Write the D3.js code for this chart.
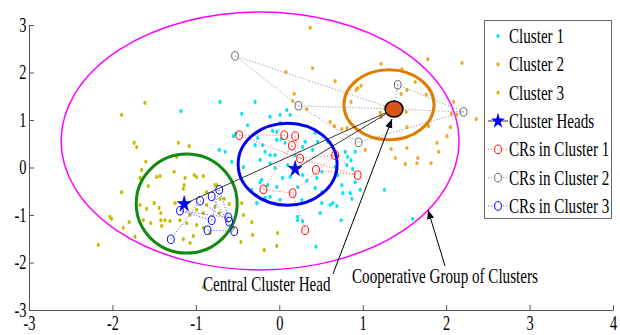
<!DOCTYPE html>
<html><head><meta charset="utf-8">
<script src="https://cdn.jsdelivr.net/npm/d3@7"></script>
<style>body{margin:0;background:#fff} text{font-family:"Liberation Serif","Times New Roman",serif;}</style>
</head><body><svg id="c" width="620" height="335"></svg>
<script>
// ---------------- data ----------------
const xTicks = [-3,-2,-1,0,1,2,3,4];
const yTicks = [-3,-2,-1,0,1,2,3];
const legendLabels = ["Cluster 1","Cluster 2","Cluster 3","Cluster Heads","CRs in Cluster 1","CRs in Cluster 2","CRs in Cluster 3"];

const cluster1 = [[-0.71,1.38],[-1.18,1.19],[-0.45,1.13],[-0.55,0.66],[-0.52,0.71],[-0.72,0.37],[-0.29,1.38],[0.01,1.11],[0.13,1.11],[0.09,1.21],
 [-0.03,0.75],[-0.03,0.58],[0.07,0.52],[0.31,0.54],[0.43,0.73],[0.46,0.54],[0.40,0.37],[-0.17,0.33],[-0.05,0.26],[0.19,0.26],
 [0.58,0.54],[0.79,0.33],[0.91,0.33],[0.82,0.22],[-0.29,0.47],[-0.65,0.33],[-0.57,0.12],[-0.43,0.01],[-0.23,0.16],[-0.11,0.26],
 [-0.05,-0.01],[0.04,-0.22],[0.13,-0.20],[0.28,-0.16],[0.33,-0.28],[-0.23,-0.31],[-0.33,-0.47],[-0.11,-0.62],[0.01,-0.68],[0.27,-0.68],
 [0.81,0.05],[0.86,0.15],[0.91,-0.31],[0.97,-0.47],[0.49,-0.96],[0.61,-0.79],[0.22,-1.04],[-0.27,-0.75],[-0.11,0.09],[0.10,0.05],
 [0.45,-0.22],[0.51,-0.09],[0.67,0.01],[0.70,-0.16],[0.88,-0.03],[-0.21,-0.26],[-0.14,-0.37],[-0.03,-0.41],[0.22,-0.41],[0.43,-0.43],
 [0.51,-0.52],[0.75,-0.37],[0.76,-0.54],[0.85,-0.54],[0.87,-0.66],[0.51,-0.75],[0.64,-0.75],[0.69,-0.81],[-0.17,-0.64],[0.22,-1.11],
 [0.28,-1.13],[0.74,-1.11],[0.44,-1.67],[1.26,-0.47],[1.60,-1.08],[-0.38,0.89],[-0.26,0.62],[-0.11,1.07],[0.01,0.94],[-0.08,0.77],
 [0.02,0.60],[-0.20,0.47],[0.28,0.43]];

const cluster2 = [[0.37,2.94],[0.40,2.09],[0.08,2.01],[0.67,1.82],[1.22,2.18],[1.47,2.07],[1.78,2.28],[2.19,2.20],[0.92,1.63],[0.98,1.72],
 [0.94,1.67],[0.18,1.55],[0.16,1.40],[0.33,1.23],[0.86,1.38],[1.46,1.55],[1.53,1.63],[1.76,1.53],[1.63,1.80],[2.09,1.38],
 [2.06,1.13],[2.13,1.11],[2.36,1.02],[1.52,1.17],[1.21,1.15],[1.22,1.06],[0.61,0.96],[0.66,0.87],[0.75,0.81],[0.81,0.83],
 [1.53,0.85],[1.79,0.87],[2.05,0.85],[2.01,0.66],[1.03,0.37],[1.34,0.39],[1.53,0.41],[1.39,0.20],[1.66,0.20],[1.91,0.33],
 [1.89,0.52],[1.51,0.07],[1.65,0.09],[1.82,0.09]];

const cluster3 = [[-1.61,1.36],[-1.89,1.11],[-1.74,0.52],[-1.71,0.43],[-1.21,0.52],[-1.08,0.45],[-1.23,0.22],[-1.60,0.12],[-1.65,-0.05],[-1.67,-0.22],
 [-1.57,-0.39],[-1.47,-0.20],[-1.43,-0.18],[-1.26,-0.09],[-1.13,-0.22],[-1.14,-0.37],[-1.15,-0.45],[-1.02,-0.16],[-0.99,-0.20],[-0.91,-0.18],
 [-0.77,-0.37],[-0.87,-0.52],[-0.71,-0.66],[-0.66,-0.66],[-0.60,-0.77],[-1.89,-0.52],[-2.03,-1.04],[-2.01,-1.08],[-1.80,-1.15],[-1.87,-1.27],
 [-1.73,-1.46],[-2.17,-1.63],[-1.67,-0.79],[-1.59,-0.87],[-1.50,-0.75],[-1.44,-0.85],[-1.42,-0.96],[-1.63,-1.11],[-1.54,-1.17],[-1.42,-1.11],
 [-1.37,-1.11],[-1.31,-1.13],[-1.41,-1.23],[-1.25,-0.75],[-1.19,-1.11],[-1.11,-1.17],[-1.07,-1.00],[-0.99,-0.89],[-0.91,-0.96],[-0.87,-0.79],
 [-0.77,-0.83],[-0.72,-0.96],[-0.99,-1.21],[-0.91,-1.27],[-0.83,-1.38],[-1.15,-1.51],[-1.03,-1.44],[-1.07,-1.59],[-0.55,-1.27],[-0.46,-1.57],
 [-0.45,-0.75],[-0.43,-1.00],[-0.33,-1.15],[-0.32,-1.42],[-0.91,-2.52],[-0.18,-1.74],[-0.02,-1.38],[-0.03,-1.65],[-0.75,-0.37]];

const heads = [[0.19,-0.03],[-1.14,-0.77]];          // cluster heads 1 and 3
const centralHead = [1.375,1.23];                      // central cluster head (cluster 2)

const crs1 = [[-0.48,0.68],[0.06,0.68],[0.19,0.66],[0.15,0.46],[0.25,0.19],[0.67,0.26],[0.44,-0.05],[0.94,-0.16],[-0.19,-0.46],[0.16,-0.54],[0.31,-1.32]];
const crs1Links = [[0,1],[0,4],[1,3],[2,4],[3,4],[4,5],[4,7],[6,7],[5,7],[8,3],[8,9],[9,5],[10,9]];
const crs2 = [[-0.53,2.35],[0.23,1.30],[1.42,1.74],[2.21,1.17],[0.95,0.53]];
const crs2Links = [[0,-1],[0,1],[1,-1],[1,4],[4,3],[2,-1],[2,3],[3,-1]]; // -1 = central head
const crs3 = [[-1.19,-0.91],[-0.95,-0.70],[-0.81,-0.61],[-0.72,-0.47],[-0.81,-1.11],[-0.61,-1.05],[-0.60,-1.14],[-0.54,-1.34],[-0.86,-1.32],[-1.30,-1.51]];
const crs3Links = [[9,1],[0,5],[1,6],[2,7],[3,5],[8,7],[4,0],[4,3]];

// cluster boundary ellipses: [cx, cy, rx, ry] in data units
const ellGroup = [-0.23,0.56,2.385,2.716];
const ell1 = [0.10,0.07,0.593,0.863];
const ell2 = [1.315,1.32,0.54,0.737];
const ell3 = [-1.11,-0.76,0.605,1.042];

// ---------------- drawing ----------------
const svg = d3.select("#c");
const x = d3.scaleLinear().domain([-3,4]).range([29,613]);
const y = d3.scaleLinear().domain([-3,3]).range([310,25]);
const SX = 0.72;
const C1="#00E6F0", C2="#EDA927", C3="#C4BC00";

function ellipse(e, color, w){
  svg.append("ellipse").attr("cx",x(e[0])).attr("cy",y(e[1]))
    .attr("rx",x(e[0]+e[2])-x(e[0])).attr("ry",y(e[1])-y(e[1]+e[3]))
    .attr("fill","none").attr("stroke",color).attr("stroke-width",w);
}
function text(px,py,str,anchor,size){
  svg.append("text").attr("transform",`translate(${px},${py}) scale(${SX},1)`)
    .attr("text-anchor",anchor).attr("font-size",size).attr("fill","#000").text(str);
}

ellipse(ellGroup,"#FF00FF",1.5);

// data points
[[cluster1,C1],[cluster2,C2],[cluster3,C3]].forEach(([pts,col])=>{
  svg.append("g").selectAll("ellipse").data(pts).join("ellipse")
    .attr("cx",d=>x(d[0])).attr("cy",d=>y(d[1])).attr("rx",1.6).attr("ry",2.1).attr("fill",col);
});

// CR links
function links(crs, lk, hub, col){
  const g = svg.append("g");
  lk.forEach(([a,b])=>{
    const p=crs[a], q=(b<0?hub:crs[b]);
    g.append("line").attr("x1",x(p[0])).attr("y1",y(p[1])).attr("x2",x(q[0])).attr("y2",y(q[1]))
      .attr("stroke",col).attr("stroke-width",1).attr("stroke-dasharray","1.2,1.8");
  });
}
links(crs1,crs1Links,heads[0],"#FF7070");
links(crs2,crs2Links,centralHead,"#999");
links(crs3,crs3Links,heads[1],"#6060FF");

// cluster ellipses
ellipse(ell1,"#0000F0",3);
ellipse(ell2,"#E07D00",3);
ellipse(ell3,"#128A12",3);

// CR circles
[[crs1,"#FF0000"],[crs2,"#666"],[crs3,"#0000FF"]].forEach(([pts,col])=>{
  svg.append("g").selectAll("ellipse").data(pts).join("ellipse")
    .attr("cx",d=>x(d[0])).attr("cy",d=>y(d[1])).attr("rx",3.4).attr("ry",4.3)
    .attr("fill","none").attr("stroke",col).attr("stroke-width",1);
});

// head to central head links
heads.forEach(h=>{
  svg.append("line").attr("x1",x(h[0])).attr("y1",y(h[1])).attr("x2",x(centralHead[0])).attr("y2",y(centralHead[1]))
    .attr("stroke","#222").attr("stroke-width",0.9);
});
const star = d3.symbol().type(d3.symbolStar).size(60);
heads.forEach(h=>{
  svg.append("path").attr("d",star()).attr("transform",`translate(${x(h[0])},${y(h[1])}) scale(1,1.15)`)
    .attr("fill","#0000FF").attr("stroke","#00008B").attr("stroke-width",0.5);
});
svg.append("ellipse").attr("cx",x(centralHead[0])).attr("cy",y(centralHead[1])).attr("rx",9).attr("ry",8)
  .attr("fill","#DA5418").attr("stroke","#000").attr("stroke-width",1.5);

// annotations
svg.append("defs").append("marker").attr("id","ah").attr("viewBox","0 0 10 10").attr("refX",10).attr("refY",5)
  .attr("markerWidth",9).attr("markerHeight",9).attr("markerUnits","userSpaceOnUse").attr("orient","auto")
  .append("path").attr("d","M0,1 L10,5 L0,9 Z").attr("fill","#000");
function arrow(x1,y1,x2,y2){
  svg.append("line").attr("x1",x1).attr("y1",y1).attr("x2",x2).attr("y2",y2)
    .attr("stroke","#000").attr("stroke-width",1).attr("marker-end","url(#ah)");
}
arrow(333,274,392,119);
arrow(445,266,428,210);
text(203,291,"Central Cluster Head","start",21);
text(352,283,"Cooperative Group of Clusters","start",21);

// axes
const axCol="#555";
const gx = svg.append("g").attr("transform","translate(0,310)")
  .call(d3.axisBottom(x).tickValues(xTicks).tickSize(-5).tickSizeOuter(0).tickPadding(6).tickFormat(d3.format("d")));
const gy = svg.append("g").attr("transform","translate(29,0)")
  .call(d3.axisLeft(y).tickValues(yTicks).tickSize(-5).tickSizeOuter(0).tickPadding(3.5).tickFormat(d3.format("d")));
[gx,gy].forEach(g=>{
  g.attr("font-family",null).attr("font-size",null);
  g.select(".domain").attr("stroke",axCol);
  g.selectAll(".tick line").attr("stroke",axCol);
  g.selectAll(".tick text").attr("font-size",20).attr("fill","#000")
    .attr("font-family","'Liberation Serif','Times New Roman',serif").text(d=>d<0?"-"+(-d):d);
});
gx.selectAll(".tick text").attr("transform",`scale(${SX},1)`);
gy.selectAll(".tick text").attr("transform",`scale(${SX},1)`);

// legend
const lg = svg.append("g");
lg.append("rect").attr("x",484.5).attr("y",20.5).attr("width",127).attr("height",198)
  .attr("fill","#fff").attr("stroke","#666").attr("stroke-width",1);
const legendCols=[C1,C2,C3,"#0000FF","#FF0000","#666","#0000FF"];
const lineCols=[null,null,null,"#333","#FF7070","#999","#6060FF"];
legendLabels.forEach((lab,i)=>{
  const by = 43 + i*28.33, my = by-7;
  if(i<3){
    lg.append("ellipse").attr("cx",498).attr("cy",my).attr("rx",1.6).attr("ry",2.1).attr("fill",legendCols[i]);
  } else {
    lg.append("line").attr("x1",488).attr("x2",508).attr("y1",my).attr("y2",my).attr("stroke",lineCols[i])
      .attr("stroke-width",1).attr("stroke-dasharray",i===3?null:"1.2,1.8");
    if(i===3){
      lg.append("path").attr("d",star()).attr("transform",`translate(498,${my}) scale(1,1.15)`).attr("fill","#0000FF");
    } else {
      lg.append("ellipse").attr("cx",498).attr("cy",my).attr("rx",3.4).attr("ry",4.3).attr("fill","#fff")
        .attr("stroke",legendCols[i]).attr("stroke-width",1);
    }
  }
  text(509,by,lab,"start",21);
});
</script></body></html>
